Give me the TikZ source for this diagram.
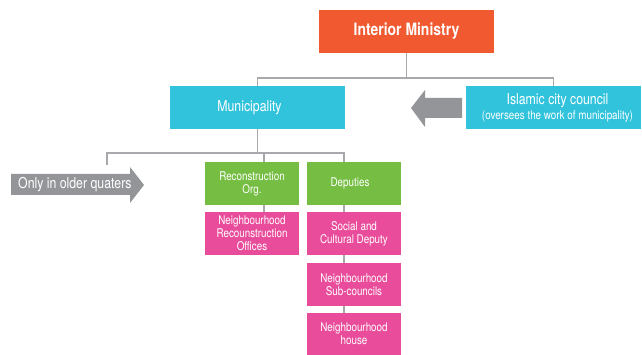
\documentclass[tikz,border=0pt]{standalone}
\usepackage{fontspec}
\setmainfont{TeX Gyre Heros}[FakeStretch=0.82]
\definecolor{cOrange}{HTML}{F15A31}
\definecolor{cCyan}{HTML}{31C2DC}
\definecolor{cGreen}{HTML}{76BE43}
\definecolor{cPink}{HTML}{E84C9A}
\definecolor{cArrow}{HTML}{939598}
\definecolor{cLine}{HTML}{A7A9AC}
\tikzset{
  box/.style={inner sep=0pt, align=center, text=white, anchor=center},
  topbox/.style={box, fill=cOrange, minimum width=175pt, minimum height=43pt, font=\fontsize{17}{19}\selectfont\bfseries},
  bigbox/.style={box, fill=cCyan, minimum width=175pt, minimum height=43pt, font=\fontsize{15}{16}\selectfont},
  greenbox/.style={box, fill=cGreen, minimum width=94pt, minimum height=43pt, font=\fontsize{12}{13}\selectfont},
  pinkbox/.style={box, fill=cPink, minimum width=94pt, minimum height=43pt, font=\fontsize{12}{13}\selectfont},
  conn/.style={draw=cLine, line width=1.4pt},
  grayarrow/.style={fill=cArrow, draw=none},
}
\begin{document}
\begin{tikzpicture}[x=1pt,y=1pt]
\useasboundingbox (0,0) rectangle (642,-355);
% boxes
\node[topbox] (min) at (406.5,-31.5) {Interior Ministry};
\node[bigbox] (mun) at (257.5,-107.5) {Municipality\hspace*{16pt}};
\node[bigbox, minimum width=175pt] (council) at (553.5,-107.5) {\hspace*{8pt}Islamic city council\\[-1pt]\hspace*{8pt}{\fontsize{12}{13}\selectfont(oversees the work of municipality)}};
\node[greenbox] (recon) at (252,-183.5) {Reconstruction\\Org.};
\node[greenbox] (dep) at (354,-183.5) {Deputies\hspace*{8pt}};
\node[pinkbox] (nro) at (252,-233.5) {Neighbourhood\\Recounstruction\\Offices};
\node[pinkbox] (scd) at (354,-233.5) {Social and\\Cultural Deputy};
\node[pinkbox] (nsc) at (354,-284.5) {Neighbourhood\\Sub-councils};
\node[pinkbox, minimum height=42pt] (nh) at (354,-334) {Neighbourhood\\house};
% connectors top
\coordinate (j1) at (406.5,-78);
\draw[conn] (min.south) -- (j1);
\draw[conn] (mun.north) |- (j1) -| (council.north);
% connectors municipality
\coordinate (j2) at (257.5,-153);
\coordinate (oq) at (107,-165);
\coordinate (rn) at ([xshift=12pt]recon.north);
\coordinate (rs) at ([xshift=12pt]recon.south);
\coordinate (dn) at ([xshift=-10pt]dep.north);
\draw[conn] (mun.south) -- (j2);
\draw[conn] (oq) |- (dn |- j2) -- (dn);
\draw[conn] (rn |- j2) -- (rn);
\draw[conn] (rs) -- (rs |- nro.north);
\draw[conn] ([xshift=-10pt]dep.south) -- ([xshift=-10pt]scd.north);
\draw[conn] ([xshift=-10pt]scd.south) -- ([xshift=-10pt]nsc.north);
\draw[conn] ([xshift=-10pt]nsc.south) -- ([xshift=-10pt]nh.north);
% council arrow
\fill[grayarrow] (411,-108) -- (425,-90) -- (425,-98) -- (462,-98) -- (462,-118) -- (425,-118) -- (425,-127) -- cycle;
% older quarters arrow
\fill[grayarrow] (11,-174) -- (130,-174) -- (130,-167) -- (144,-185) -- (130,-203) -- (130,-195) -- (11,-195) -- cycle;
\node[box, font=\fontsize{15}{16}\selectfont, anchor=west] (oqt) at (18,-184.5) {Only in older quaters};
\end{tikzpicture}
\end{document}
